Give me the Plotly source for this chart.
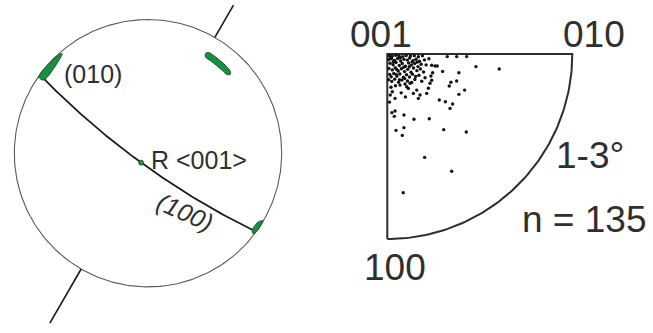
import numpy as np
import plotly.graph_objects as go

# ---------------- stereonet (lower hemisphere, equal-angle) ----------------
lineation_trend = 30.0                 # degrees clockwise from north
lineation_reach = [1.279, 1.468]       # outer ends of the two lineation ticks (primitive = 1)
plane_100 = {"dip_direction": 216.0, "dip": 80.0}
rotation_axis = {"trend": 216.0, "plunge": 80.0}

# misorientation-axis density patches, outlines as (azimuth, radius)
patch_a_az = [304.5, 307, 311, 315, 318.5, 319.2, 318, 315, 311, 307, 305, 304.5]
patch_a_r = [0.998, 1.002, 1.0, 0.997, 0.99, 0.982, 0.972, 0.958, 0.947, 0.944, 0.955, 0.975]
patch_b_az = [30.0, 31, 34, 38, 42, 45, 46.2, 45.2, 42, 38, 34, 31, 30.0]
patch_b_r = [0.86, 0.879, 0.88, 0.878, 0.875, 0.869, 0.852, 0.835, 0.832, 0.833, 0.835, 0.838, 0.86]
patch_c_az = [120.5, 123, 126, 127.5, 126.5, 124, 121.5, 120.5]
patch_c_r = [0.997, 1.002, 1.0, 0.99, 0.97, 0.966, 0.976, 0.997]

stereo_labels = ["(010)", "R <001>", "(100)"]

# ---------------- inverse pole figure (001 at the corner, radius = 100) ----------------
ipf_x = [
    1.0, 2.6, 4.5, 6.3, 8.4, 10.2, 12.5, 14.6, 16.8, 19.0,
    0.8, 2.3, 3.9, 5.6, 7.2, 9.0, 10.8, 12.1, 13.9, 15.5, 17.4, 20.1, 22.5,
    1.5, 3.1, 4.7, 6.5, 8.1, 9.8, 11.5, 13.0, 14.8, 16.6, 18.3, 21.0,
    0.9, 2.7, 4.3, 5.9, 7.6, 9.3, 11.0, 12.8, 14.2, 16.0, 17.9, 19.6,
    1.3, 3.5, 5.2, 6.8, 8.7, 10.4, 12.0, 13.6, 15.3, 17.1, 20.4,
    0.7, 2.4, 4.0, 6.1, 7.9, 10.9, 13.2, 14.9, 18.6,
    2.0, 4.4, 6.9, 9.6, 10.5, 11.4, 12.3, 15.9, 22.2, 23.1,
    2.7, 1.6, 4.2, 7.5, 14.1, 17.7, 16.8, 21.3, 9.8, 1.2,
    24.0, 25.8, 27.0, 24.5, 23.6, 24.0,
    1.8, 3.3, 5.0, 7.0, 8.9, 11.9, 2.1, 4.8, 9.4, 13.4, 6.6, 16.1,
    32.4, 37.5, 42.9, 47.9, 60.5, 29.9, 38.7, 37.5, 34.4, 33.5, 41.8, 38.7, 28.1, 31.4, 35.3,
    33.9, 2.5, 4.2, 3.8, 9.0, 14.4, 22.7, 4.7, 9.0, 8.1, 30.5, 42.7, 20.2, 34.8, 8.6,
]
ipf_y = [
    0.8, 1.2, 0.7, 1.0, 1.4, 0.8, 1.1, 0.9, 1.5, 1.0,
    3.0, 2.6, 3.5, 2.4, 3.8, 2.9, 3.3, 2.2, 3.6, 2.8, 3.9, 3.2, 2.6,
    5.0, 5.8, 4.6, 6.2, 5.1, 6.6, 4.9, 6.0, 5.2, 6.8, 5.5, 5.9,
    7.8, 8.6, 7.4, 9.2, 8.0, 9.5, 8.3, 9.8, 7.6, 9.0, 8.1, 9.7,
    11.0, 10.5, 12.0, 10.8, 12.6, 11.2, 12.4, 10.9, 12.2, 11.5, 12.8,
    13.9, 14.8, 13.6, 15.3, 14.1, 14.6, 15.4, 13.8, 14.7,
    18.0, 17.2, 16.8, 16.2, 17.7, 18.6, 15.8, 19.5, 18.5, 15.8,
    20.4, 22.2, 24.0, 21.0, 21.3, 22.2, 24.0, 21.3, 23.2, 26.0,
    6.1, 6.5, 6.5, 10.1, 11.9, 14.2,
    1.9, 4.2, 8.3, 2.0, 7.2, 6.9, 12.3, 11.0, 13.3, 4.3, 13.9, 4.4,
    1.4, 1.4, 1.4, 6.8, 8.1, 9.4, 10.1, 14.6, 15.3, 17.3, 19.5, 21.8, 24.9, 25.8, 27.0,
    29.4, 31.7, 30.8, 33.7, 33.0, 35.3, 35.0, 41.3, 39.8, 44.0, 40.9, 42.2, 55.9, 63.4, 75.0,
]
ipf_corner_labels = ["001", "010", "100"]
ipf_range_label = "1-3°"
ipf_count_label = "n = %d" % len(ipf_x)

TEXT = "#2f2f2f"
GREEN = "#17903f"
GREEN_EDGE = "#1d4f2c"
FONT = "Arial, Liberation Sans, sans-serif"


def to_xy(az_deg, r):
    a = np.radians(np.asarray(az_deg, dtype=float))
    r = np.asarray(r, dtype=float)
    return r * np.sin(a), r * np.cos(a)


def stereo(trend, plunge):
    r = np.tan(np.radians(90.0 - np.asarray(plunge, dtype=float)) / 2.0)
    return to_xy(trend, r)


def vec(trend, plunge):
    t, p = np.radians(trend), np.radians(plunge)
    return np.array([np.cos(p) * np.sin(t), np.cos(p) * np.cos(t), -np.sin(p)])


fig = go.Figure()

# primitive circle
th = np.linspace(0, 360, 361)
px, py = to_xy(th, np.ones_like(th))
fig.add_trace(go.Scatter(x=px, y=py, mode="lines", line=dict(color="#5a5a5a", width=1.1),
                         xaxis="x", yaxis="y", hoverinfo="skip"))

# lineation ticks outside the primitive
for az, reach in [(lineation_trend, lineation_reach[0]), (lineation_trend + 180, lineation_reach[1])]:
    lx, ly = to_xy([az, az], [1.0, reach])
    fig.add_trace(go.Scatter(x=lx, y=ly, mode="lines", line=dict(color="#1a1a1a", width=1.6),
                             xaxis="x", yaxis="y", hoverinfo="skip"))

# great circle of (100)
dd, dip = plane_100["dip_direction"], plane_100["dip"]
s_vec = vec(dd - 90.0, 0.0)
d_vec = vec(dd, dip)
ang = np.linspace(0, np.pi, 181)
pts = np.outer(np.cos(ang), s_vec) + np.outer(np.sin(ang), d_vec)
tr = np.degrees(np.arctan2(pts[:, 0], pts[:, 1]))
pl = np.degrees(np.arcsin(np.clip(-pts[:, 2], -1, 1)))
gx, gy = stereo(tr, pl)
fig.add_trace(go.Scatter(x=gx, y=gy, mode="lines", line=dict(color="#1a1a1a", width=1.8),
                         xaxis="x", yaxis="y", hoverinfo="skip"))

# density patches
for az_list, r_list in [(patch_a_az, patch_a_r), (patch_b_az, patch_b_r), (patch_c_az, patch_c_r)]:
    qx, qy = to_xy(az_list, r_list)
    fig.add_trace(go.Scatter(x=qx, y=qy, mode="lines", fill="toself", fillcolor=GREEN,
                             line=dict(color=GREEN_EDGE, width=1, shape="spline"),
                             xaxis="x", yaxis="y", hoverinfo="skip"))

# rotation axis
rx, ry = stereo([rotation_axis["trend"]], [rotation_axis["plunge"]])
fig.add_trace(go.Scatter(x=rx, y=ry, mode="markers",
                         marker=dict(size=5, color=GREEN, line=dict(color=GREEN_EDGE, width=0.8)),
                         xaxis="x", yaxis="y", hoverinfo="skip"))

# inverse pole figure outline: 100 -> 001 -> 010, then the arc back to 100
arc = np.linspace(0, 90, 91)
ox = np.concatenate([[0, 0, 100], 100 * np.cos(np.radians(arc))])
oy = np.concatenate([[100, 0, 0], 100 * np.sin(np.radians(arc))])
fig.add_trace(go.Scatter(x=ox, y=oy, mode="lines", line=dict(color="#2e2e2e", width=2),
                         xaxis="x2", yaxis="y2", hoverinfo="skip"))

fig.add_trace(go.Scatter(x=ipf_x, y=ipf_y, mode="markers",
                         marker=dict(size=3.4, color="#111111"),
                         xaxis="x2", yaxis="y2", hoverinfo="skip", cliponaxis=False))

ann = []
for text, (x, y), italic, angle in zip(
        stereo_labels,
        [(-0.415, 0.592), (0.383, -0.051), (0.277, -0.438)],
        [False, False, True], [0, 0, 24]):
    ann.append(dict(text=("<i>%s</i>" % text) if italic else text, x=x, y=y, xref="x", yref="y",
                    showarrow=False, textangle=angle, font=dict(family=FONT, size=25, color=TEXT)))

for text, (x, y) in zip(ipf_corner_labels + [ipf_range_label, ipf_count_label],
                        [(-3.2, -10.5), (111.8, -10.5), (4.2, 115.4), (109.6, 55.0), (106.2, 89.7)]):
    ann.append(dict(text=text, x=x, y=y, xref="x2", yref="y2", showarrow=False,
                    font=dict(family=FONT, size=37, color=TEXT)))

hidden = dict(visible=False, showgrid=False, zeroline=False, fixedrange=True)
fig.update_layout(
    width=653, height=333, margin=dict(l=0, r=0, t=0, b=0),
    paper_bgcolor="white", plot_bgcolor="white", showlegend=False,
    xaxis=dict(domain=[0, 0.5], range=[-1.1070, 1.3351], **hidden),
    yaxis=dict(domain=[0, 1], range=[-1.3448, 1.1459], **hidden),
    xaxis2=dict(domain=[0.5, 1], range=[-32.86, 143.62], **hidden),
    yaxis2=dict(domain=[0, 1], range=[150.81, -29.19], **hidden),
    annotations=ann,
)

fig.write_html("out.html")
